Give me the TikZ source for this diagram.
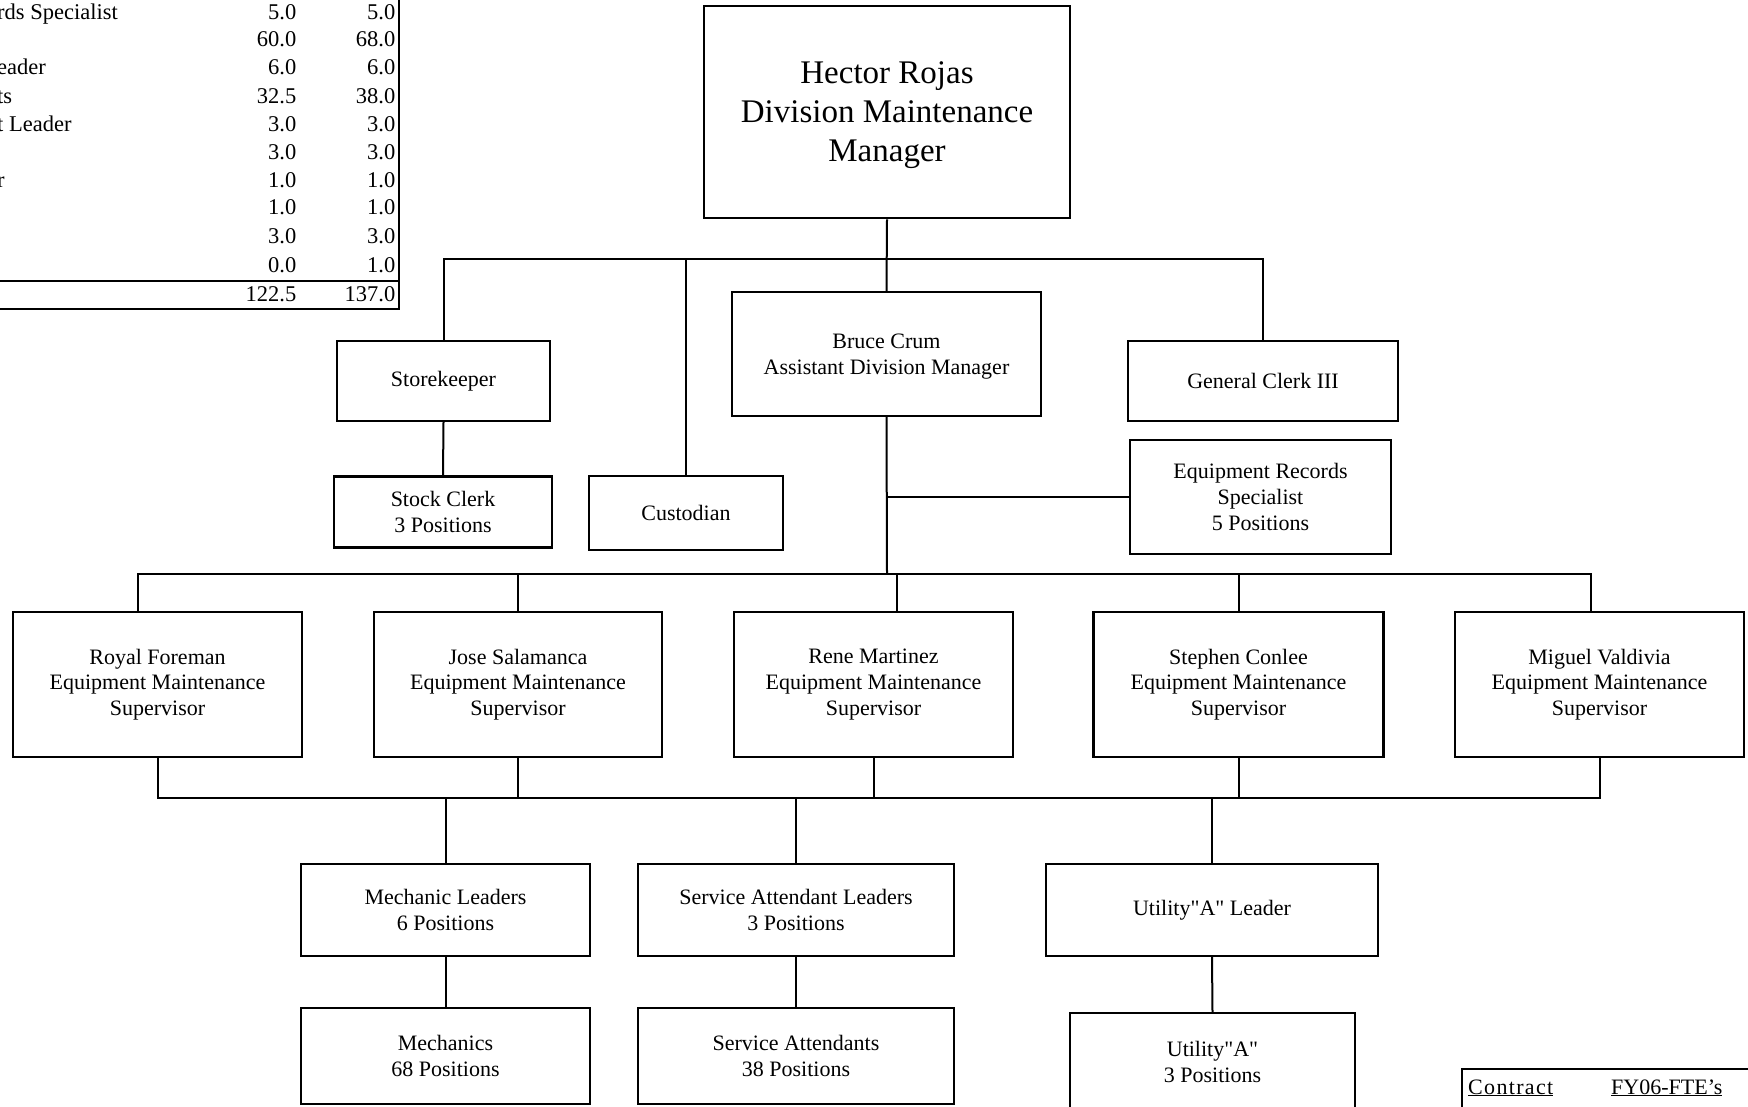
\documentclass[tikz,border=0pt]{standalone}
\usepackage{fontspec}
\setmainfont{Liberation Serif}[Ligatures=TeXOff]
\begin{document}
\begin{tikzpicture}[x=1pt,y=-1pt,
  box/.style={draw, line width=2.4pt, align=center, inner sep=0pt, font=\fontsize{22}{25.6}\selectfont},
  link/.style={line width=2pt},
  rule/.style={line width=2.4pt},
  num/.style={anchor=east, inner sep=0pt, text height=15pt, text depth=5pt, font=\fontsize{22.5}{26}\selectfont},
  lbl/.style={anchor=west, inner sep=0pt, text height=15pt, text depth=5pt, font=\fontsize{22.5}{26}\selectfont}]
\useasboundingbox (0,0) rectangle (1748,1106);
\clip (0,0) rectangle (1748,1106);

% ---------- partial table (top left) ----------
\draw[rule] (399,-5) -- (399,309) -- (-5,309);
\draw[rule] (-5,281) -- (399,281);
\node[lbl] (l1) at (-3,14.8) {rds Specialist};
\node[lbl] (l3) at (-3,69.4) {eader};
\node[lbl] (l4) at (-3,98.4) {ts};
\node[lbl] (l5) at (-3,126.2) {t Leader};
\node[lbl] (l7) at (-3,182) {r};
\foreach \y/\a/\b [count=\i] in {14.8/5.0/5.0, 41.5/60.0/68.0, 69.4/6.0/6.0, 98.4/32.5/38.0, 126.2/3.0/3.0, 154.1/3.0/3.0, 182/1.0/1.0, 209.9/1.0/1.0, 238.8/3.0/3.0, 267.8/0.0/1.0, 296.3/122.5/137.0}{
  \node[num] (a\i) at (296.5,\y) {\a};
  \node[num] (b\i) at (395.5,\y) {\b};
}

% ---------- boxes ----------
\node[box, line width=2.8pt, text depth=0pt, minimum width=366pt, minimum height=212pt, font=\fontsize{33}{39}\selectfont] (hector) at (887,112) {Hector Rojas\\Division Maintenance\\Manager};
\node[box, text depth=0pt, minimum width=309pt, minimum height=124pt] (bruce) at (886.5,354) {Bruce Crum\\Assistant Division Manager};
\node[box, minimum width=213pt, minimum height=80pt] (store) at (443.5,381) {Storekeeper};
\node[box, minimum width=218pt, minimum height=71pt] (stock) at (443,512) {Stock Clerk\\3 Positions};
\node[box, minimum width=194pt, minimum height=74pt] (cust) at (686,513) {Custodian};
\node[box, minimum width=270pt, minimum height=80pt] (gclerk) at (1263,381) {General Clerk III};
\node[box, minimum width=261pt, minimum height=114pt] (ers) at (1260.5,497) {Equipment Records\\Specialist\\5 Positions};

\node[box, minimum width=289pt, minimum height=145pt] (royal) at (157.5,684.5) {Royal Foreman\\Equipment Maintenance\\Supervisor};
\node[box, minimum width=288.5pt, minimum height=145pt] (jose) at (518,684.5) {Jose Salamanca\\Equipment Maintenance\\Supervisor};
\node[box, minimum width=279.5pt, minimum height=145pt] (rene) at (873.5,684.5) {Rene Martinez\\Equipment Maintenance\\Supervisor};
\node[box, minimum width=290pt, minimum height=145pt] (stephen) at (1238.5,684.5) {Stephen Conlee\\Equipment Maintenance\\Supervisor};
\node[box, minimum width=289pt, minimum height=145pt] (miguel) at (1599.5,684.5) {Miguel Valdivia\\Equipment Maintenance\\Supervisor};

\node[box, minimum width=289pt, minimum height=92pt] (mlead) at (445.5,910) {Mechanic Leaders\\6 Positions};
\node[box, minimum width=316pt, minimum height=92pt] (salead) at (796,910) {Service Attendant Leaders\\3 Positions};
\node[box, minimum width=332pt, minimum height=92pt] (ulead) at (1212,910) {Utility"A" Leader};

\node[box, minimum width=289pt, minimum height=96pt] (mech) at (445.5,1056) {Mechanics\\68 Positions};
\node[box, minimum width=316pt, minimum height=96pt] (sa) at (796,1056) {Service Attendants\\38 Positions};
\node[box, minimum width=285pt, minimum height=98pt] (ua) at (1212.5,1062) {Utility"A"\\3 Positions};

% ---------- connectors ----------
\coordinate (topbus) at (887,258.5);
\coordinate (supbus) at (887,574);
\coordinate (lowbus) at (796,798);

\draw[link] (hector.south) -- (bruce.north);
\draw[link] (store.north) |- (topbus) -| (gclerk.north);
\draw[link] (cust.north) -- (cust.north |- topbus);
\draw[link] (store.south) -- (stock.north);
\draw[link] (ers.west) -- (ers.west -| bruce.south);
\draw[link] (bruce.south) -- (supbus);

\draw[link] ([xshift=-19.5pt]royal.north) |- (supbus) -| ([xshift=-8.5pt]miguel.north);
\draw[link] (jose.north) -- (jose.north |- supbus);
\draw[link] ([xshift=23.5pt]rene.north) -- ([xshift=23.5pt]rene.north |- supbus);
\draw[link] (stephen.north) -- (stephen.north |- supbus);

\draw[link] (royal.south) |- (lowbus) -| (miguel.south);
\draw[link] (jose.south) -- (jose.south |- lowbus);
\draw[link] (rene.south) -- (rene.south |- lowbus);
\draw[link] (stephen.south) -- (stephen.south |- lowbus);

\draw[link] (mlead.north) -- (mlead.north |- lowbus);
\draw[link] (salead.north) -- (salead.north |- lowbus);
\draw[link] (ulead.north) -- (ulead.north |- lowbus);

\draw[link] (mlead.south) -- (mech.north);
\draw[link] (salead.south) -- (sa.north);
\draw[link] (ulead.south) -- (ua.north);

% ---------- contract box (bottom right, cut off) ----------
\draw[rule] (1462,1115) -- (1462,1069) -- (1760,1069);
\node[anchor=base west, inner sep=0pt, font=\fontsize{22}{26}\selectfont\addfontfeature{LetterSpace=6}] (contract) at (1468,1094) {\underline{Contract}};
\node[anchor=base west, inner sep=0pt, font=\fontsize{22}{26}\selectfont] (fte) at (1611,1094) {\underline{FY06-FTE’s}};
\end{tikzpicture}
\end{document}
